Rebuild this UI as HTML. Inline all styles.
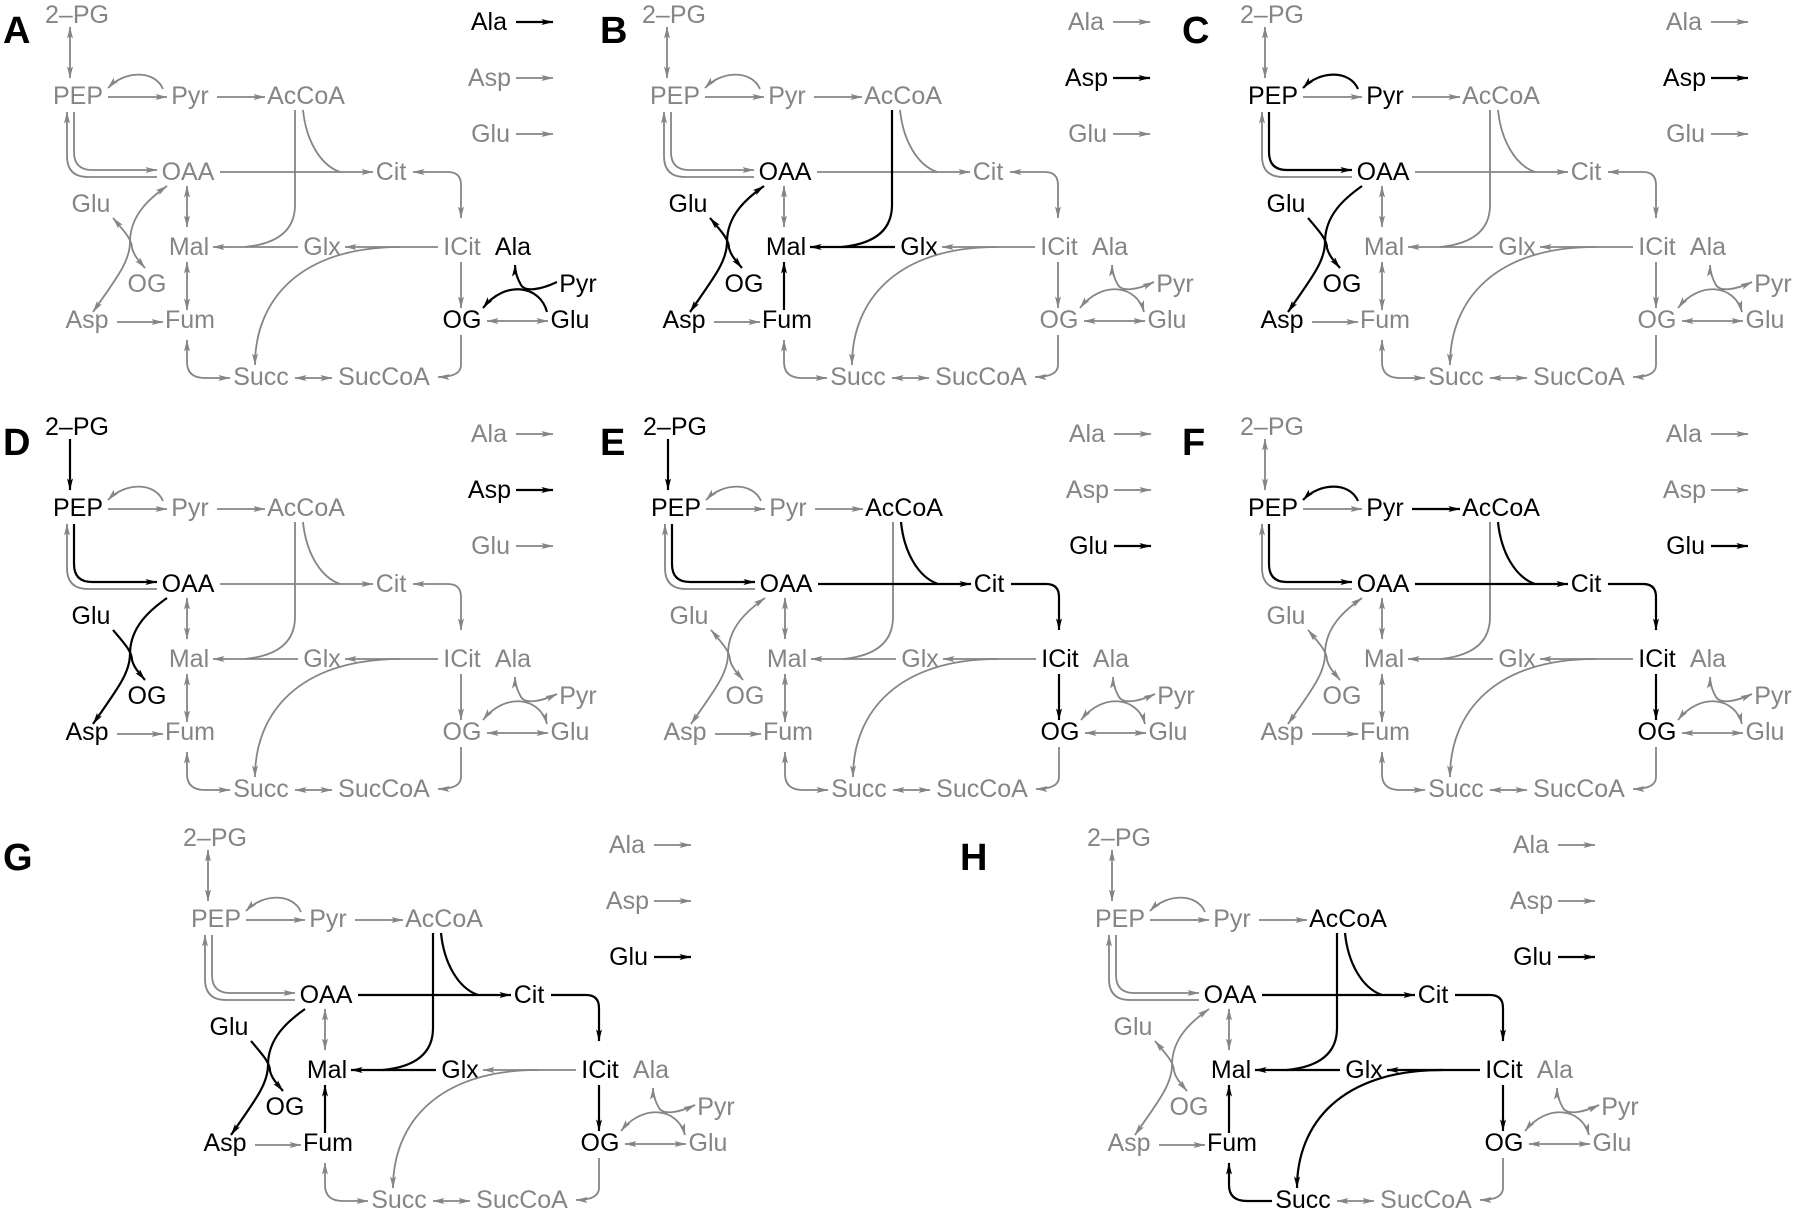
<!DOCTYPE html>
<html><head><meta charset="utf-8"><style>
html,body{margin:0;padding:0;background:#fff}
svg{display:block}
.g{fill:none;stroke:#858585;stroke-width:1.8}
.k{fill:none;stroke:#000;stroke-width:2.2}
.ge{marker-end:url(#ag)}.gs{marker-start:url(#ag)}
.ke{marker-end:url(#ak)}.ks{marker-start:url(#ak)}
text{font-family:"Liberation Sans",Arial,sans-serif;font-size:25px;text-anchor:middle;fill:#858585}
text.b{fill:#000}
text.e{text-anchor:end}
text.L{font-size:38px;font-weight:bold;fill:#000;text-anchor:start}
</style></head><body>
<svg width="1800" height="1214" viewBox="0 0 1800 1214" xmlns="http://www.w3.org/2000/svg">
<defs>
<marker id="ag" viewBox="0 0 12 8" refX="11.5" refY="4" markerWidth="12" markerHeight="8" markerUnits="userSpaceOnUse" orient="auto-start-reverse"><path d="M0,1L12,4L0,7L2.5,4z" fill="#858585"/></marker>
<marker id="ak" viewBox="0 0 12 8" refX="11.5" refY="4" markerWidth="13" markerHeight="8" markerUnits="userSpaceOnUse" orient="auto-start-reverse"><path d="M0,1L12,4L0,7L2.5,4z" fill="#000"/></marker>
</defs>
<rect width="1800" height="1214" fill="#fff"/>

<text class="L" x="3" y="43">A</text>
<text class="L" x="600" y="43">B</text>
<text class="L" x="1182" y="43">C</text>
<text class="L" x="3" y="455">D</text>
<text class="L" x="600" y="455">E</text>
<text class="L" x="1182" y="455">F</text>
<text class="L" x="3" y="870">G</text>
<text class="L" x="960" y="870">H</text>

<!-- Panel A -->
<g transform="translate(0,0)">
<text x="77" y="23">2–PG</text><text x="78" y="104">PEP</text><text x="190" y="104">Pyr</text><text x="306" y="104">AcCoA</text>
<text x="188" y="180">OAA</text><text x="391" y="180">Cit</text><text x="91" y="212">Glu</text>
<text x="189" y="255">Mal</text><text x="322" y="255">Glx</text><text x="462" y="255">ICit</text><text class="b" x="513" y="255">Ala</text>
<text x="147" y="292">OG</text><text class="b" x="578" y="292">Pyr</text>
<text x="87" y="328">Asp</text><text x="190" y="328">Fum</text><text class="b" x="462" y="328">OG</text><text class="b" x="570" y="328">Glu</text>
<text x="261" y="385">Succ</text><text x="384" y="385">SucCoA</text>
<text class="e b" x="507" y="30">Ala</text><text class="e" x="511" y="86">Asp</text><text class="e" x="510" y="142">Glu</text>
<path class="k ke" d="M516,22H553"/><path class="g ge" d="M516,78H553"/><path class="g ge" d="M516,134H553"/>
<path class="g gs ge" d="M70,27V78"/>
<path class="g ge" d="M108,97H167"/>
<path class="g ge" d="M163,89C155,70 125,70 108,88"/>
<path class="g ge" d="M217,97H265"/>
<path class="g ge" d="M157,177H88Q67,177 67,156V112"/>
<path class="g ge" d="M74,112V152Q74,170 92,170H157"/>
<path class="g ge" d="M220,172H373"/>
<path class="g" d="M303,110C306,140 320,165 340,172"/>
<path class="g" d="M295,110V205C295,232 275,244 245,247"/>
<path class="g ge" d="M298,247H213"/>
<path class="g ge" d="M438,247H345"/>
<path class="g gs ge" d="M413,172H448Q461,172 461,185V218"/>
<path class="g gs ge" d="M187,186V227"/>
<path class="g gs ge" d="M187,262V310"/>
<path class="g ge" d="M117,322H163"/>
<path class="g gs ge" d="M93,312C115,280 130,262 130,242C130,215 150,198 167,186"/>
<path class="g gs ge" d="M113,218C125,232 132,240 132,248C134,256 140,262 145,268"/>
<path class="g ge" d="M461,262V308"/>
<path class="g gs ge" d="M487,321H548"/>
<path class="g ge" d="M461,335V365Q461,377 438,377"/>
<path class="g gs ge" d="M295,378H332"/>
<path class="g gs ge" d="M187,340V362Q187,378 205,378H230"/>
<path class="g ge" d="M400,247C300,247 255,300 255,365"/>
<path class="k ke" d="M547,312C540,285 505,280 483,308"/>
<path class="k ke" d="M557,282C540,290 525,292 521,285C517,278 515,272 515,265"/>
</g>

<!-- Panel B -->
<g transform="translate(597,0)">
<text x="77" y="23">2–PG</text><text x="78" y="104">PEP</text><text x="190" y="104">Pyr</text><text x="306" y="104">AcCoA</text>
<text class="b" x="188" y="180">OAA</text><text x="391" y="180">Cit</text><text class="b" x="91" y="212">Glu</text>
<text class="b" x="189" y="255">Mal</text><text class="b" x="322" y="255">Glx</text><text x="462" y="255">ICit</text><text x="513" y="255">Ala</text>
<text class="b" x="147" y="292">OG</text><text x="578" y="292">Pyr</text>
<text class="b" x="87" y="328">Asp</text><text class="b" x="190" y="328">Fum</text><text x="462" y="328">OG</text><text x="570" y="328">Glu</text>
<text x="261" y="385">Succ</text><text x="384" y="385">SucCoA</text>
<text class="e" x="507" y="30">Ala</text><text class="e b" x="511" y="86">Asp</text><text class="e" x="510" y="142">Glu</text>
<path class="g ge" d="M516,22H553"/><path class="k ke" d="M516,78H553"/><path class="g ge" d="M516,134H553"/>
<path class="g gs ge" d="M70,27V78"/>
<path class="g ge" d="M108,97H167"/>
<path class="g ge" d="M163,89C155,70 125,70 108,88"/>
<path class="g ge" d="M217,97H265"/>
<path class="g ge" d="M157,177H88Q67,177 67,156V112"/>
<path class="g ge" d="M74,112V152Q74,170 92,170H157"/>
<path class="g ge" d="M220,172H373"/>
<path class="g" d="M303,110C306,140 320,165 340,172"/>
<path class="g ge" d="M438,247H345"/>
<path class="g gs ge" d="M413,172H448Q461,172 461,185V218"/>
<path class="g gs ge" d="M187,186V227"/>
<path class="g ge" d="M117,322H163"/>
<path class="g ge" d="M461,262V308"/>
<path class="g gs ge" d="M487,321H548"/>
<path class="g ge" d="M461,335V365Q461,377 438,377"/>
<path class="g gs ge" d="M295,378H332"/>
<path class="g gs ge" d="M187,340V362Q187,378 205,378H230"/>
<path class="g ge" d="M400,247C300,247 255,300 255,365"/>
<path class="g gs ge" d="M547,312C540,285 505,280 483,308"/>
<path class="g gs ge" d="M557,282C540,290 525,292 521,285C517,278 515,272 515,265"/>
<path class="k" d="M295,110V205C295,232 275,244 245,247"/>
<path class="k ke" d="M298,247H213"/>
<path class="k ke" d="M187,310V262"/>
<path class="k ks ke" d="M93,312C115,280 130,262 130,242C130,215 150,198 167,186"/>
<path class="k ks ke" d="M113,218C125,232 132,240 132,248C134,256 140,262 145,268"/>
</g>

<!-- Panel C -->
<g transform="translate(1195,0)">
<text x="77" y="23">2–PG</text><text class="b" x="78" y="104">PEP</text><text class="b" x="190" y="104">Pyr</text><text x="306" y="104">AcCoA</text>
<text class="b" x="188" y="180">OAA</text><text x="391" y="180">Cit</text><text class="b" x="91" y="212">Glu</text>
<text x="189" y="255">Mal</text><text x="322" y="255">Glx</text><text x="462" y="255">ICit</text><text x="513" y="255">Ala</text>
<text class="b" x="147" y="292">OG</text><text x="578" y="292">Pyr</text>
<text class="b" x="87" y="328">Asp</text><text x="190" y="328">Fum</text><text x="462" y="328">OG</text><text x="570" y="328">Glu</text>
<text x="261" y="385">Succ</text><text x="384" y="385">SucCoA</text>
<text class="e" x="507" y="30">Ala</text><text class="e b" x="511" y="86">Asp</text><text class="e" x="510" y="142">Glu</text>
<path class="g ge" d="M516,22H553"/><path class="k ke" d="M516,78H553"/><path class="g ge" d="M516,134H553"/>
<path class="g gs ge" d="M70,27V78"/>
<path class="g ge" d="M108,97H167"/>
<path class="g ge" d="M217,97H265"/>
<path class="g ge" d="M157,177H88Q67,177 67,156V112"/>
<path class="g ge" d="M220,172H373"/>
<path class="g" d="M303,110C306,140 320,165 340,172"/>
<path class="g" d="M295,110V205C295,232 275,244 245,247"/>
<path class="g ge" d="M298,247H213"/>
<path class="g ge" d="M438,247H345"/>
<path class="g gs ge" d="M413,172H448Q461,172 461,185V218"/>
<path class="g gs ge" d="M187,186V227"/>
<path class="g gs ge" d="M187,262V310"/>
<path class="g ge" d="M117,322H163"/>
<path class="g ge" d="M461,262V308"/>
<path class="g gs ge" d="M487,321H548"/>
<path class="g ge" d="M461,335V365Q461,377 438,377"/>
<path class="g gs ge" d="M295,378H332"/>
<path class="g gs ge" d="M187,340V362Q187,378 205,378H230"/>
<path class="g ge" d="M400,247C300,247 255,300 255,365"/>
<path class="g gs ge" d="M547,312C540,285 505,280 483,308"/>
<path class="g gs ge" d="M557,282C540,290 525,292 521,285C517,278 515,272 515,265"/>
<path class="k ke" d="M163,89C155,70 125,70 108,88"/>
<path class="k ke" d="M74,112V152Q74,170 92,170H157"/>
<path class="k ks" d="M93,312C115,280 130,262 130,242C130,215 150,198 167,186"/>
<path class="k ke" d="M113,218C125,232 132,240 132,248C134,256 140,262 145,268"/>
</g>

<!-- Panel D -->
<g transform="translate(0,412)">
<text class="b" x="77" y="23">2–PG</text><text class="b" x="78" y="104">PEP</text><text x="190" y="104">Pyr</text><text x="306" y="104">AcCoA</text>
<text class="b" x="188" y="180">OAA</text><text x="391" y="180">Cit</text><text class="b" x="91" y="212">Glu</text>
<text x="189" y="255">Mal</text><text x="322" y="255">Glx</text><text x="462" y="255">ICit</text><text x="513" y="255">Ala</text>
<text class="b" x="147" y="292">OG</text><text x="578" y="292">Pyr</text>
<text class="b" x="87" y="328">Asp</text><text x="190" y="328">Fum</text><text x="462" y="328">OG</text><text x="570" y="328">Glu</text>
<text x="261" y="385">Succ</text><text x="384" y="385">SucCoA</text>
<text class="e" x="507" y="30">Ala</text><text class="e b" x="511" y="86">Asp</text><text class="e" x="510" y="142">Glu</text>
<path class="g ge" d="M516,22H553"/><path class="k ke" d="M516,78H553"/><path class="g ge" d="M516,134H553"/>
<path class="g ge" d="M108,97H167"/>
<path class="g ge" d="M163,89C155,70 125,70 108,88"/>
<path class="g ge" d="M217,97H265"/>
<path class="g ge" d="M157,177H88Q67,177 67,156V112"/>
<path class="g ge" d="M220,172H373"/>
<path class="g" d="M303,110C306,140 320,165 340,172"/>
<path class="g" d="M295,110V205C295,232 275,244 245,247"/>
<path class="g ge" d="M298,247H213"/>
<path class="g ge" d="M438,247H345"/>
<path class="g gs ge" d="M413,172H448Q461,172 461,185V218"/>
<path class="g gs ge" d="M187,186V227"/>
<path class="g gs ge" d="M187,262V310"/>
<path class="g ge" d="M117,322H163"/>
<path class="g ge" d="M461,262V308"/>
<path class="g gs ge" d="M487,321H548"/>
<path class="g ge" d="M461,335V365Q461,377 438,377"/>
<path class="g gs ge" d="M295,378H332"/>
<path class="g gs ge" d="M187,340V362Q187,378 205,378H230"/>
<path class="g ge" d="M400,247C300,247 255,300 255,365"/>
<path class="g gs ge" d="M547,312C540,285 505,280 483,308"/>
<path class="g gs ge" d="M557,282C540,290 525,292 521,285C517,278 515,272 515,265"/>
<path class="k ke" d="M70,27V78"/>
<path class="k ke" d="M74,112V152Q74,170 92,170H157"/>
<path class="k ks" d="M93,312C115,280 130,262 130,242C130,215 150,198 167,186"/>
<path class="k ke" d="M113,218C125,232 132,240 132,248C134,256 140,262 145,268"/>
</g>

<!-- Panel E -->
<g transform="translate(598,412)">
<text class="b" x="77" y="23">2–PG</text><text class="b" x="78" y="104">PEP</text><text x="190" y="104">Pyr</text><text class="b" x="306" y="104">AcCoA</text>
<text class="b" x="188" y="180">OAA</text><text class="b" x="391" y="180">Cit</text><text x="91" y="212">Glu</text>
<text x="189" y="255">Mal</text><text x="322" y="255">Glx</text><text class="b" x="462" y="255">ICit</text><text x="513" y="255">Ala</text>
<text x="147" y="292">OG</text><text x="578" y="292">Pyr</text>
<text x="87" y="328">Asp</text><text x="190" y="328">Fum</text><text class="b" x="462" y="328">OG</text><text x="570" y="328">Glu</text>
<text x="261" y="385">Succ</text><text x="384" y="385">SucCoA</text>
<text class="e" x="507" y="30">Ala</text><text class="e" x="511" y="86">Asp</text><text class="e b" x="510" y="142">Glu</text>
<path class="g ge" d="M516,22H553"/><path class="g ge" d="M516,78H553"/><path class="k ke" d="M516,134H553"/>
<path class="g ge" d="M108,97H167"/>
<path class="g ge" d="M163,89C155,70 125,70 108,88"/>
<path class="g ge" d="M217,97H265"/>
<path class="g ge" d="M157,177H88Q67,177 67,156V112"/>
<path class="g" d="M295,110V205C295,232 275,244 245,247"/>
<path class="g ge" d="M298,247H213"/>
<path class="g ge" d="M438,247H345"/>
<path class="g gs ge" d="M187,186V227"/>
<path class="g gs ge" d="M187,262V310"/>
<path class="g ge" d="M117,322H163"/>
<path class="g gs ge" d="M93,312C115,280 130,262 130,242C130,215 150,198 167,186"/>
<path class="g gs ge" d="M113,218C125,232 132,240 132,248C134,256 140,262 145,268"/>
<path class="g gs ge" d="M487,321H548"/>
<path class="g ge" d="M461,335V365Q461,377 438,377"/>
<path class="g gs ge" d="M295,378H332"/>
<path class="g gs ge" d="M187,340V362Q187,378 205,378H230"/>
<path class="g ge" d="M400,247C300,247 255,300 255,365"/>
<path class="g gs ge" d="M547,312C540,285 505,280 483,308"/>
<path class="g gs ge" d="M557,282C540,290 525,292 521,285C517,278 515,272 515,265"/>
<path class="k ke" d="M70,27V78"/>
<path class="k ke" d="M74,112V152Q74,170 92,170H157"/>
<path class="k ke" d="M220,172H373"/>
<path class="k" d="M303,110C306,140 320,165 340,172"/>
<path class="k ke" d="M413,172H448Q461,172 461,185V218"/>
<path class="k ke" d="M461,262V308"/>
</g>

<!-- Panel F -->
<g transform="translate(1195,412)">
<text x="77" y="23">2–PG</text><text class="b" x="78" y="104">PEP</text><text class="b" x="190" y="104">Pyr</text><text class="b" x="306" y="104">AcCoA</text>
<text class="b" x="188" y="180">OAA</text><text class="b" x="391" y="180">Cit</text><text x="91" y="212">Glu</text>
<text x="189" y="255">Mal</text><text x="322" y="255">Glx</text><text class="b" x="462" y="255">ICit</text><text x="513" y="255">Ala</text>
<text x="147" y="292">OG</text><text x="578" y="292">Pyr</text>
<text x="87" y="328">Asp</text><text x="190" y="328">Fum</text><text class="b" x="462" y="328">OG</text><text x="570" y="328">Glu</text>
<text x="261" y="385">Succ</text><text x="384" y="385">SucCoA</text>
<text class="e" x="507" y="30">Ala</text><text class="e" x="511" y="86">Asp</text><text class="e b" x="510" y="142">Glu</text>
<path class="g ge" d="M516,22H553"/><path class="g ge" d="M516,78H553"/><path class="k ke" d="M516,134H553"/>
<path class="g gs ge" d="M70,27V78"/>
<path class="g ge" d="M108,97H167"/>
<path class="g ge" d="M157,177H88Q67,177 67,156V112"/>
<path class="g" d="M295,110V205C295,232 275,244 245,247"/>
<path class="g ge" d="M298,247H213"/>
<path class="g ge" d="M438,247H345"/>
<path class="g gs ge" d="M187,186V227"/>
<path class="g gs ge" d="M187,262V310"/>
<path class="g ge" d="M117,322H163"/>
<path class="g gs ge" d="M93,312C115,280 130,262 130,242C130,215 150,198 167,186"/>
<path class="g gs ge" d="M113,218C125,232 132,240 132,248C134,256 140,262 145,268"/>
<path class="g gs ge" d="M487,321H548"/>
<path class="g ge" d="M461,335V365Q461,377 438,377"/>
<path class="g gs ge" d="M295,378H332"/>
<path class="g gs ge" d="M187,340V362Q187,378 205,378H230"/>
<path class="g ge" d="M400,247C300,247 255,300 255,365"/>
<path class="g gs ge" d="M547,312C540,285 505,280 483,308"/>
<path class="g gs ge" d="M557,282C540,290 525,292 521,285C517,278 515,272 515,265"/>
<path class="k ke" d="M163,89C155,70 125,70 108,88"/>
<path class="k ke" d="M217,97H265"/>
<path class="k ke" d="M74,112V152Q74,170 92,170H157"/>
<path class="k ke" d="M220,172H373"/>
<path class="k" d="M303,110C306,140 320,165 340,172"/>
<path class="k ke" d="M413,172H448Q461,172 461,185V218"/>
<path class="k ke" d="M461,262V308"/>
</g>

<!-- Panel G -->
<g transform="translate(138,823)">
<text x="77" y="23">2–PG</text><text x="78" y="104">PEP</text><text x="190" y="104">Pyr</text><text x="306" y="104">AcCoA</text>
<text class="b" x="188" y="180">OAA</text><text class="b" x="391" y="180">Cit</text><text class="b" x="91" y="212">Glu</text>
<text class="b" x="189" y="255">Mal</text><text class="b" x="322" y="255">Glx</text><text class="b" x="462" y="255">ICit</text><text x="513" y="255">Ala</text>
<text class="b" x="147" y="292">OG</text><text x="578" y="292">Pyr</text>
<text class="b" x="87" y="328">Asp</text><text class="b" x="190" y="328">Fum</text><text class="b" x="462" y="328">OG</text><text x="570" y="328">Glu</text>
<text x="261" y="385">Succ</text><text x="384" y="385">SucCoA</text>
<text class="e" x="507" y="30">Ala</text><text class="e" x="511" y="86">Asp</text><text class="e b" x="510" y="142">Glu</text>
<path class="g ge" d="M516,22H553"/><path class="g ge" d="M516,78H553"/><path class="k ke" d="M516,134H553"/>
<path class="g gs ge" d="M70,27V78"/>
<path class="g ge" d="M108,97H167"/>
<path class="g ge" d="M163,89C155,70 125,70 108,88"/>
<path class="g ge" d="M217,97H265"/>
<path class="g ge" d="M157,177H88Q67,177 67,156V112"/>
<path class="g ge" d="M74,112V152Q74,170 92,170H157"/>
<path class="g ge" d="M438,247H345"/>
<path class="g gs ge" d="M187,186V227"/>
<path class="g ge" d="M117,322H163"/>
<path class="g gs ge" d="M487,321H548"/>
<path class="g ge" d="M461,335V365Q461,377 438,377"/>
<path class="g gs ge" d="M295,378H332"/>
<path class="g gs ge" d="M187,340V362Q187,378 205,378H230"/>
<path class="g ge" d="M400,247C300,247 255,300 255,365"/>
<path class="g gs ge" d="M547,312C540,285 505,280 483,308"/>
<path class="g gs ge" d="M557,282C540,290 525,292 521,285C517,278 515,272 515,265"/>
<path class="k ke" d="M220,172H373"/>
<path class="k" d="M303,110C306,140 320,165 340,172"/>
<path class="k" d="M295,110V205C295,232 275,244 245,247"/>
<path class="k ke" d="M298,247H213"/>
<path class="k ke" d="M413,172H448Q461,172 461,185V218"/>
<path class="k ke" d="M461,262V308"/>
<path class="k ke" d="M187,310V262"/>
<path class="k ks" d="M93,312C115,280 130,262 130,242C130,215 150,198 167,186"/>
<path class="k ke" d="M113,218C125,232 132,240 132,248C134,256 140,262 145,268"/>
</g>

<!-- Panel H -->
<g transform="translate(1042,823)">
<text x="77" y="23">2–PG</text><text x="78" y="104">PEP</text><text x="190" y="104">Pyr</text><text class="b" x="306" y="104">AcCoA</text>
<text class="b" x="188" y="180">OAA</text><text class="b" x="391" y="180">Cit</text><text x="91" y="212">Glu</text>
<text class="b" x="189" y="255">Mal</text><text class="b" x="322" y="255">Glx</text><text class="b" x="462" y="255">ICit</text><text x="513" y="255">Ala</text>
<text x="147" y="292">OG</text><text x="578" y="292">Pyr</text>
<text x="87" y="328">Asp</text><text class="b" x="190" y="328">Fum</text><text class="b" x="462" y="328">OG</text><text x="570" y="328">Glu</text>
<text class="b" x="261" y="385">Succ</text><text x="384" y="385">SucCoA</text>
<text class="e" x="507" y="30">Ala</text><text class="e" x="511" y="86">Asp</text><text class="e b" x="510" y="142">Glu</text>
<path class="g ge" d="M516,22H553"/><path class="g ge" d="M516,78H553"/><path class="k ke" d="M516,134H553"/>
<path class="g gs ge" d="M70,27V78"/>
<path class="g ge" d="M108,97H167"/>
<path class="g ge" d="M163,89C155,70 125,70 108,88"/>
<path class="g ge" d="M217,97H265"/>
<path class="g ge" d="M157,177H88Q67,177 67,156V112"/>
<path class="g ge" d="M74,112V152Q74,170 92,170H157"/>
<path class="g gs ge" d="M187,186V227"/>
<path class="g ge" d="M117,322H163"/>
<path class="g gs ge" d="M93,312C115,280 130,262 130,242C130,215 150,198 167,186"/>
<path class="g gs ge" d="M113,218C125,232 132,240 132,248C134,256 140,262 145,268"/>
<path class="g gs ge" d="M487,321H548"/>
<path class="g ge" d="M461,335V365Q461,377 438,377"/>
<path class="g gs ge" d="M295,378H332"/>
<path class="g gs ge" d="M547,312C540,285 505,280 483,308"/>
<path class="g gs ge" d="M557,282C540,290 525,292 521,285C517,278 515,272 515,265"/>
<path class="k ke" d="M220,172H373"/>
<path class="k" d="M303,110C306,140 320,165 340,172"/>
<path class="k" d="M295,110V205C295,232 275,244 245,247"/>
<path class="k ke" d="M298,247H213"/>
<path class="k ke" d="M438,247H345"/>
<path class="k ke" d="M400,247C300,247 255,300 255,365"/>
<path class="k ke" d="M413,172H448Q461,172 461,185V218"/>
<path class="k ke" d="M461,262V308"/>
<path class="k ke" d="M187,310V262"/>
<path class="k ks" d="M187,340V362Q187,378 205,378H230"/>
</g>
</svg>
</body></html>
